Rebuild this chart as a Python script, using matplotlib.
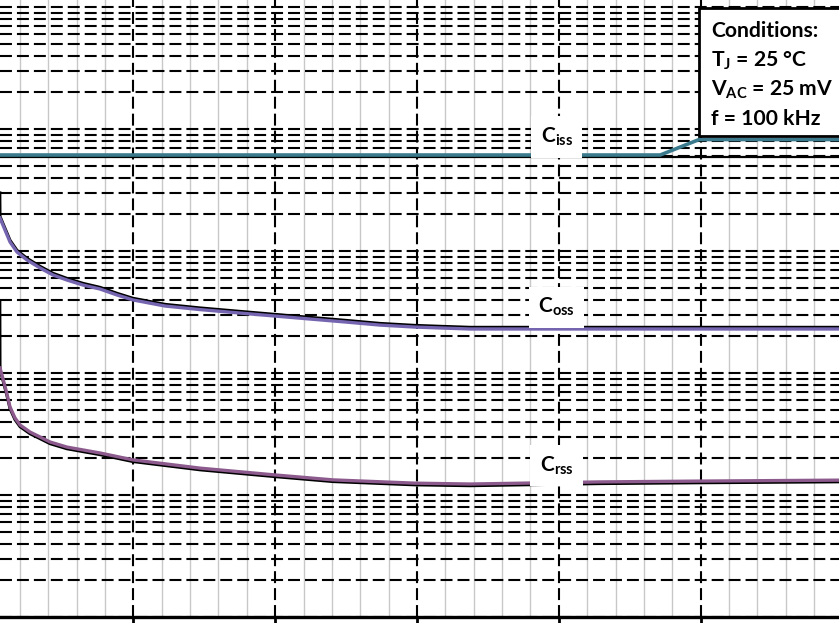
import numpy as np
import matplotlib
matplotlib.use("Agg")
import matplotlib.pyplot as plt
from matplotlib.patches import Rectangle
from matplotlib.transforms import offset_copy

# ---------------- data (V in volts, C in pF) ----------------
v_oss = [11.6, 11.85, 18.9, 26.0, 35.8, 49.9, 68.3, 86.6, 106.3, 128.9, 152.9, 176.9, 199.4, 244.6,
         294, 350.4, 399.7, 449, 498.4, 548, 597, 632, 675, 999, 1250]
c_oss = [2900, 1862, 1486, 1185, 981, 844, 726, 636, 578, 526, 488, 436, 397, 354,
         331, 310, 293, 277, 262, 247, 238, 234, 229.5, 229.5, 229.5]

v_rss = [11.6, 11.85, 16.5, 21.3, 26.0, 33.0, 40.1, 54.2, 68.3, 82.4, 106.3, 128.9, 152.9, 199.4,
         294, 399.7, 481.5, 597, 675, 858, 999, 1250]
c_rss = [397, 110, 87.6, 68.6, 52.6, 42.8, 37.5, 32.8, 29.9, 27.2, 24.7, 23.4, 22.1, 19.4,
         16.6, 14.6, 13.3, 12.5, 12.3, 12.8, 13.0, 13.3]

v_iss = [0, 943, 998, 1250]
c_iss = [6120, 6120, 8200, 8200]
c_iss_measured = [6120, 6120, 6120, 6120]

x_major = [0, 200, 400, 600, 800, 1000, 1200]
x_minor_step = 40
y_decades = [1, 10, 100, 1000, 10000, 100000]

labels = [r"$\mathbf{C_{iss}}$", r"$\mathbf{C_{oss}}$", r"$\mathbf{C_{rss}}$"]
label_pos = [(797, 8600), (797, 347), (797, 17.3)]

cond_lines = ["Conditions:", r"T$_\mathbf{J}$ = 25 °C", r"V$_\mathbf{AC}$ = 25 mV", "f = 100 kHz"]

# ---------------- styles ----------------
col_iss = "#3a7a8c"
col_oss = "#7565b0"
col_rss = "#8c5a8c"

plt.rcParams['lines.scale_dashes'] = False
plt.rcParams['font.family'] = ['Lato', 'DejaVu Sans']
plt.rcParams['mathtext.fontset'] = 'custom'
plt.rcParams['mathtext.rm'] = 'Lato'
plt.rcParams['mathtext.bf'] = 'Lato:bold'
plt.rcParams['mathtext.it'] = 'Lato:italic'

W, H = 839, 623
fig = plt.figure(figsize=(W / 100, H / 100), dpi=100)
ax = fig.add_axes([0, 6 / H, 1, (H - 6) / H])
ax.set_yscale('log')

dash = (0, (8.6, 3.6))
# minor gray verticals
for v in np.arange(0, 1400, x_minor_step):
    if v not in x_major:
        ax.axvline(v, color="#c8c8c8", lw=1.0, zorder=1)
# horizontal dashed log grid
for d in y_decades:
    for k in range(1, 10):
        ax.axhline(d * k, color="black", lw=1.5, linestyle=dash, zorder=2)
# major dashed verticals
for v in x_major:
    ax.axvline(v, color="black", lw=1.5, linestyle=dash, zorder=2)

# curves: black underlay + colored overlay
up = offset_copy(ax.transData, fig=fig, x=0, y=1.2, units='points')
dn = offset_copy(ax.transData, fig=fig, x=0, y=-1.2, units='points')
ax.plot(v_iss, c_iss_measured, color="black", lw=1.6, zorder=3, transform=dn)
ax.plot(v_iss, c_iss, color=col_iss, lw=2.6, zorder=4)
ax.plot(v_oss, c_oss, color="black", lw=2.2, zorder=3, transform=up)
ax.plot(v_oss[1:], c_oss[1:], color=col_oss, lw=2.4, zorder=4)
ax.plot(v_rss, c_rss, color="black", lw=2.2, zorder=3, transform=dn)
ax.plot(v_rss[1:], c_rss[1:], color=col_rss, lw=2.4, zorder=4)

for txt, (x, y) in zip(labels, label_pos):
    ax.text(x, y, txt, fontsize=15, ha='center', va='center', zorder=5,
            bbox=dict(boxstyle='square,pad=0.45', fc='white', ec='none'))

# axes styling
for s in ['left', 'top', 'right']:
    ax.spines[s].set_visible(False)
ax.spines['bottom'].set_linewidth(2.4)
ax.spines['bottom'].set_zorder(6)
ax.set_xticks(x_major)
ax.set_xticklabels([])
ax.tick_params(axis='x', which='major', direction='out', length=5, width=2, bottom=True)
ax.tick_params(axis='x', which='minor', bottom=False)
ax.tick_params(axis='y', which='both', left=False, labelleft=False)

# limits (set last)
px_per_major = 141.8
v_per_px = 200 / px_per_major
ax.set_xlim(8.4 * v_per_px, (W + 8.4) * v_per_px)
ax.set_ylim(1, 10 ** ((H - 6) / 122.0))

# conditions box (figure coords)
bx0 = 699 / W
by0 = 1 - 135.5 / H
by1 = 1 - 8 / H
fig.patches.append(Rectangle((bx0, by0), 1.05 - bx0, by1 - by0, transform=fig.transFigure,
                             fc='white', ec='black', lw=2.0, zorder=10))
ys = [37, 67, 96, 125]
for t, yy in zip(cond_lines, ys):
    fig.text(711 / W, 1 - yy / H, t, fontsize=15.2, fontweight='bold', ha='left', va='baseline', zorder=11)

fig.savefig("out.png", dpi=100)
